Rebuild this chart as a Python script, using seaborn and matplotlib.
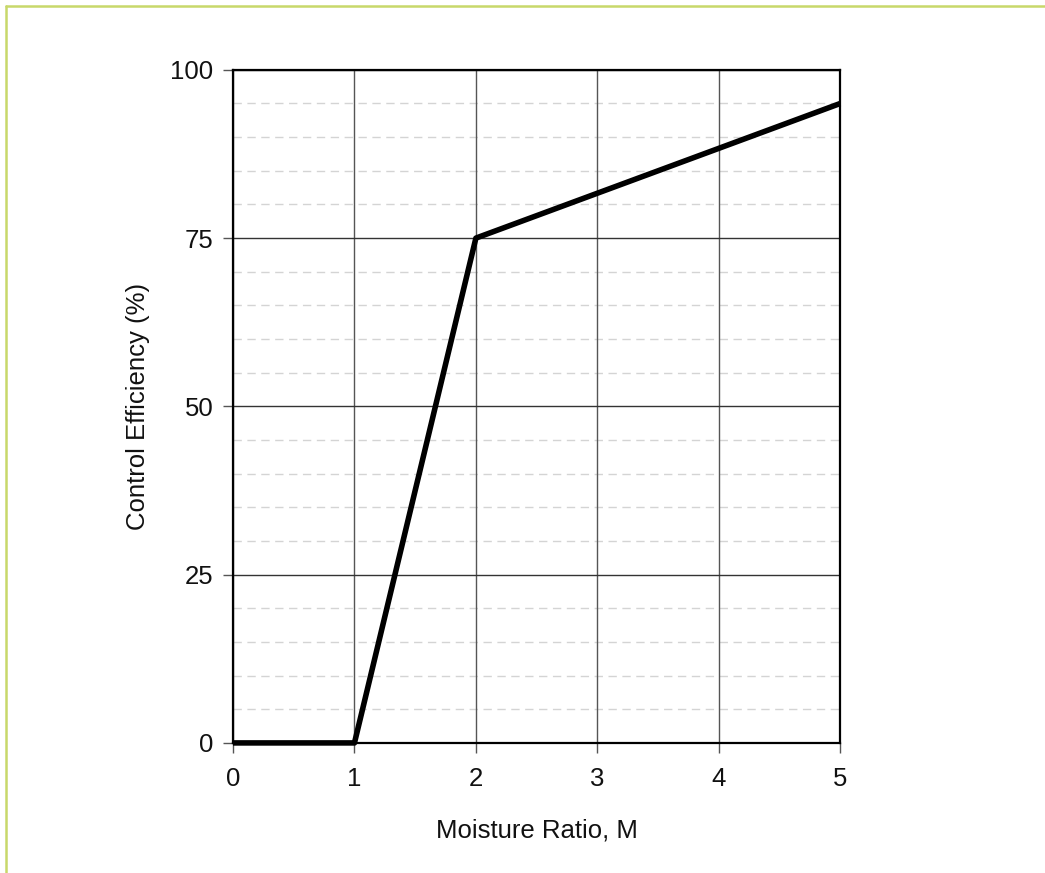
import matplotlib.pyplot as plt
import matplotlib.lines as mlines
import pandas as pd
import seaborn as sns

# moisture ratio vs control efficiency
moisture_ratio = [0, 1, 2, 5]
efficiency = [0, 0, 75, 95]
x_ticks = [0, 1, 2, 3, 4, 5]
y_ticks = [0, 25, 50, 75, 100]
y_minor = [v for v in range(5, 100, 5) if v % 25 != 0]

df = pd.DataFrame({'M': moisture_ratio, 'eff': efficiency})

sns.set_style('white')
plt.rcParams['font.family'] = ['Liberation Sans', 'DejaVu Sans']
plt.rcParams['text.color'] = '#111111'
plt.rcParams['axes.labelcolor'] = '#111111'
plt.rcParams['xtick.labelcolor'] = '#111111'
plt.rcParams['ytick.labelcolor'] = '#111111'

fig = plt.figure(figsize=(10.45, 8.73), dpi=100)
ax = fig.add_axes([0.223, 0.149, 0.581, 0.771])

# minor dashed grid on y
for v in y_minor:
    ax.axhline(v, color='#d4d4d4', lw=1.0, ls=(0, (6, 4)), zorder=0)
# major grid
for v in x_ticks:
    ax.axvline(v, color='#555555', lw=1.0, zorder=1)
for v in y_ticks:
    ax.axhline(v, color='#333333', lw=1.0, zorder=1)

sns.lineplot(data=df, x='M', y='eff', color='black', lw=4.0, ax=ax,
             zorder=3, clip_on=False, solid_capstyle='butt')

ax.set_xlim(0, 5)
ax.set_ylim(0, 100)
ax.set_xticks(x_ticks)
ax.set_yticks(y_ticks)
ax.tick_params(axis='x', direction='out', length=7, width=1, color='#555555',
               pad=10, labelsize=18.5, bottom=True)
ax.tick_params(axis='y', direction='out', length=7, width=1, color='#555555',
               pad=7, labelsize=18.5, left=True)
for s in ax.spines.values():
    s.set_color('black')
    s.set_linewidth(1.6)
    s.set_zorder(4)

ax.set_xlabel('Moisture Ratio, M', fontsize=18.5, labelpad=20)
ax.set_ylabel('Control Efficiency (%)', fontsize=18.5, labelpad=15)

# thin page border (left and top)
fig.add_artist(mlines.Line2D([6 / 1045, 6 / 1045], [0, 1 - 6 / 873],
                             color='#c8d86a', lw=1.8, transform=fig.transFigure))
fig.add_artist(mlines.Line2D([6 / 1045, 1], [1 - 6 / 873, 1 - 6 / 873],
                             color='#c8d86a', lw=1.8, transform=fig.transFigure))

fig.savefig('out.png', dpi=100)
